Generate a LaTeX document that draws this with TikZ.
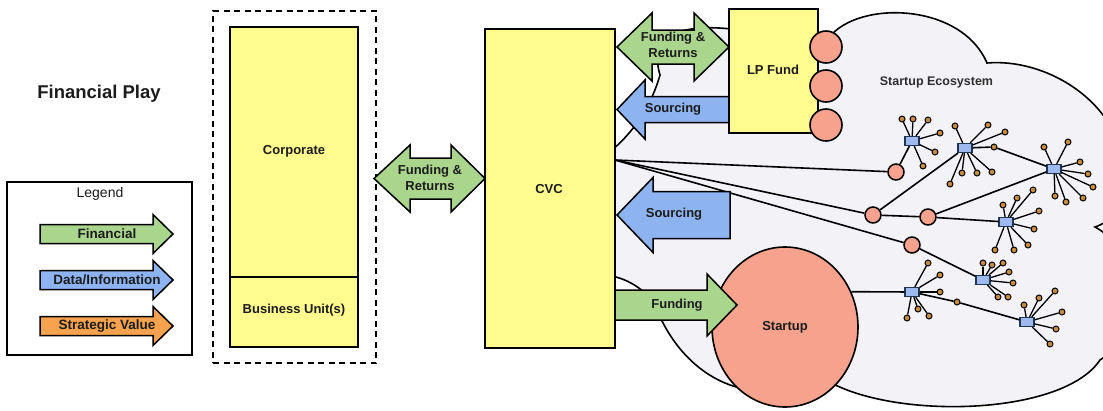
\documentclass[tikz,border=0pt]{standalone}
\usepackage{fontspec}
\setmainfont{Liberation Sans}
\usetikzlibrary{shapes.geometric}
\definecolor{boxyellow}{HTML}{FFFB8F}
\definecolor{fgreen}{HTML}{A9D58D}
\definecolor{dblue}{HTML}{8DB4F0}
\definecolor{sorange}{HTML}{F7A24E}
\definecolor{salmon}{HTML}{F6A28C}
\definecolor{hubfill}{HTML}{9DB9F0}
\definecolor{hubline}{HTML}{1F3550}
\definecolor{satfill}{HTML}{C98B3C}
\definecolor{cloudfill}{HTML}{F2F2F7}
\definecolor{txt}{HTML}{1C1C1C}
\tikzset{
  box/.style={draw=black, line width=1.6pt, fill=boxyellow, inner sep=0pt},
  lbl/.style={font=\fontsize{13}{16.5}\selectfont\bfseries, text=txt, align=center, inner sep=0pt},
  leglbl/.style={font=\fontsize{13.5}{16}\selectfont\bfseries, text=txt, inner sep=0pt},
  garrow/.style={draw=black, line width=1.5pt, fill=fgreen, line join=miter},
  barrow/.style={draw=black, line width=1.5pt, fill=dblue, line join=miter},
  oarrow/.style={draw=black, line width=1.5pt, fill=sorange, line join=miter},
  rcirc/.style={circle, draw=black, line width=1.5pt, fill=salmon, minimum size=16pt, inner sep=0pt},
  lpcirc/.style={circle, draw=black, line width=1.6pt, fill=salmon, minimum size=32pt, inner sep=0pt},
  hub/.style={rectangle, draw=hubline, line width=1.3pt, fill=hubfill, minimum width=14pt, minimum height=9pt, inner sep=0pt},
  sat/.style={circle, draw=black, line width=1pt, fill=satfill, minimum size=6pt, inner sep=0pt},
  link/.style={draw=black, line width=1.6pt},
  spoke/.style={draw=black, line width=1.3pt},
  cloudline/.style={draw=black, line width=1.6pt, fill=cloudfill},
}
\begin{document}
\begin{tikzpicture}[x=1pt,y=-1pt]
\useasboundingbox (0,0) rectangle (1103,410);
\clip (0,0) rectangle (1103,410);
\fill[white] (0,0) rectangle (1103,410);

% ---------- cloud ----------
\path[cloudline] (612,150)
  .. controls (630,135) and (650,110) .. (660,75)
  .. controls (648,35) and (680,22) .. (740,30)
  -- (826,42)
  .. controls (850,0) and (960,0) .. (987,63)
  .. controls (1045,58) and (1118,100) .. (1125,170)
  .. controls (1128,200) and (1112,222) .. (1095,227)
  .. controls (1140,250) and (1140,335) .. (1100,360)
  .. controls (1060,420) and (870,420) .. (815,372)
  -- (740,388)
  .. controls (700,378) and (670,345) .. (655,305)
  .. controls (645,290) and (630,280) .. (612,276)
  .. controls (585,250) and (585,170) .. (612,150) -- cycle;

% ---------- title & legend ----------
\node[font=\fontsize{18.5}{20}\selectfont\bfseries, text=txt, inner sep=0pt, anchor=base] (title) at (99,98) {Financial Play};
\node[draw=black, line width=1.6pt, minimum width=185pt, minimum height=173pt, inner sep=0pt] (legend) at (99.5,268.5) {};
\node[font=\fontsize{14}{16}\selectfont, text=txt, inner sep=0pt] (legendtitle) at (100,194) {Legend};
\path[garrow] (40,224.5) -- (153,224.5) -- (153,214.5) -- (173,234) -- (153,253.5) -- (153,243.5) -- (40,243.5) -- cycle;
\node[leglbl] (lfin) at (107,234) {Financial};
\path[barrow] (40,270.5) -- (153,270.5) -- (153,260.5) -- (173,280) -- (153,299.5) -- (153,289.5) -- (40,289.5) -- cycle;
\node[leglbl] (ldata) at (107,280) {Data/Information};
\path[oarrow] (40,316.5) -- (153,316.5) -- (153,306.5) -- (173,326) -- (153,345.5) -- (153,335.5) -- (40,335.5) -- cycle;
\node[leglbl] (lstrat) at (107,326) {Strategic Value};

% ---------- corporate ----------
\node[draw=black, line width=2pt, dash pattern=on 6pt off 4.5pt, minimum width=163pt, minimum height=352pt, inner sep=0pt] (corpgroup) at (294.5,187) {};
\node[box, minimum width=128pt, minimum height=250pt] (corp) at (294,152) {};
\node[lbl] (corptext) at (294,151) {Corporate};
\node[box, minimum width=128pt, minimum height=70pt] (bu) at (294,312) {};
\node[lbl] (butext) at (294,310) {Business Unit(s)};

% ---------- funding & returns (corp <-> CVC) ----------
\path[garrow] (374,178.5) -- (410,145) -- (410,158) -- (451,158) -- (451,145) -- (485,178.5) -- (451,212) -- (451,199) -- (410,199) -- (410,212) -- cycle;
\node[lbl] (fr1) at (430,178) {Funding \&\\Returns};

% ---------- CVC ----------
\node[box, minimum width=130pt, minimum height=319pt] (cvc) at (550,188.5) {};
\node[lbl] (cvctext) at (549,189) {CVC};
\coordinate (cvcport) at (615,160);

% ---------- network ----------
\node[hub] (h1) at (912,141) {};
\node[hub] (h2) at (965,148) {};
\node[hub] (h3) at (1054,169) {};
\node[hub] (h4) at (1006,222) {};
\node[hub] (h5) at (983,280) {};
\node[hub] (h6) at (912,292) {};
\node[hub] (h7) at (1027,322) {};
\node[rcirc] (r1) at (896,172) {};
\node[rcirc] (r2) at (873,215) {};
\node[rcirc] (r3) at (928,217) {};
\node[rcirc] (r4) at (912,245) {};
\node[sat] (l23) at (994,147) {};
\node[sat] (l67) at (957,302) {};

\draw[link] (cvcport) -- (r1);
\draw[link] (cvcport) -- (r2);
\draw[link] (cvcport) -- (r4);
\draw[link] (r1) -- (h1);
\draw[link] (r2) -- (h2);
\draw[link] (r2) -- (r3);
\draw[link] (r3) -- (h3);
\draw[link] (r3) -- (h4);
\draw[link] (r4) -- (h5);
\draw[link] (h2) -- (l23);
\draw[link] (l23) -- (h3);
\draw[link] (h6) -- (l67);
\draw[link] (l67) -- (h7);

\foreach \p [count=\i] in {(902,119),(913,119),(928,120),(940,133),(935,152),(923,166)}
  {\node[sat] (h1s\i) at \p {}; \draw[spoke] (h1) -- (h1s\i);}
\foreach \p [count=\i] in {(955,126),(988,125),(1005,132),(962,173),(977,173),(992,172),(950,184)}
  {\node[sat] (h2s\i) at \p {}; \draw[spoke] (h2) -- (h2s\i);}
\foreach \p [count=\i] in {(1044,147),(1068,142),(1080,162),(1088,174),(1093,187),(1083,198),(1066,202),(1055,196)}
  {\node[sat] (h3s\i) at \p {}; \draw[spoke] (h3) -- (h3s\i);}
\foreach \p [count=\i] in {(1003,205),(1017,198),(1033,190),(1039,211),(1034,229),(1028,245),(1014,250),(995,250)}
  {\node[sat] (h4s\i) at \p {}; \draw[spoke] (h4) -- (h4s\i);}
\foreach \p [count=\i] in {(983,263),(992,265),(1003,263),(1009,272),(1013,283),(1008,297),(998,297)}
  {\node[sat] (h5s\i) at \p {}; \draw[spoke] (h5) -- (h5s\i);}
\foreach \p [count=\i] in {(928,263),(940,275),(940,292),(918,309),(929,316),(907,318)}
  {\node[sat] (h6s\i) at \p {}; \draw[spoke] (h6) -- (h6s\i);}
\foreach \p [count=\i] in {(1024,305),(1039,298),(1055,291),(1062,312),(1056,329),(1050,344)}
  {\node[sat] (h7s\i) at \p {}; \draw[spoke] (h7) -- (h7s\i);}

\node[font=\fontsize{12.5}{14}\selectfont\bfseries, text=black!82, inner sep=0pt, anchor=base] (eco) at (936.5,85) {Startup Ecosystem};

% ---------- startup ----------
\node[ellipse, draw=black, line width=1.6pt, fill=salmon, minimum width=146pt, minimum height=160pt, inner sep=0pt, font=\fontsize{13}{15}\selectfont\bfseries, text=txt] (startup) at (785,327) {Startup};
\draw[link] (startup.28) -- (h6);

% ---------- arrows right of CVC ----------
\path[garrow] (617,47) -- (652,13) -- (652,30) -- (694,30) -- (694,13) -- (729,47) -- (694,81) -- (694,64) -- (652,64) -- (652,81) -- cycle;
\node[lbl] (fr2) at (673,45) {Funding \&\\Returns};
\path[barrow] (617,109.5) -- (645,80) -- (645,96.5) -- (729,96.5) -- (729,122.5) -- (645,122.5) -- (645,139) -- cycle;
\node[lbl] (src1) at (673,109) {Sourcing};
\path[barrow] (617,215) -- (653,177.5) -- (653,191.5) -- (730,191.5) -- (730,238.5) -- (653,238.5) -- (653,252.5) -- cycle;
\node[lbl] (src2) at (674,214) {Sourcing};
\path[garrow] (615,290) -- (707,290) -- (707,274) -- (737,305) -- (707,336) -- (707,320) -- (615,320) -- cycle;
\node[lbl] (fund) at (677,305) {Funding};

% ---------- LP fund ----------
\node[box, minimum width=89pt, minimum height=124pt] (lp) at (773.5,71) {};
\node[lbl] (lptext) at (773,70) {LP Fund};
\node[lpcirc] (lp1) at (826,47) {};
\node[lpcirc] (lp2) at (826,86) {};
\node[lpcirc] (lp3) at (826,125) {};
\end{tikzpicture}
\end{document}
